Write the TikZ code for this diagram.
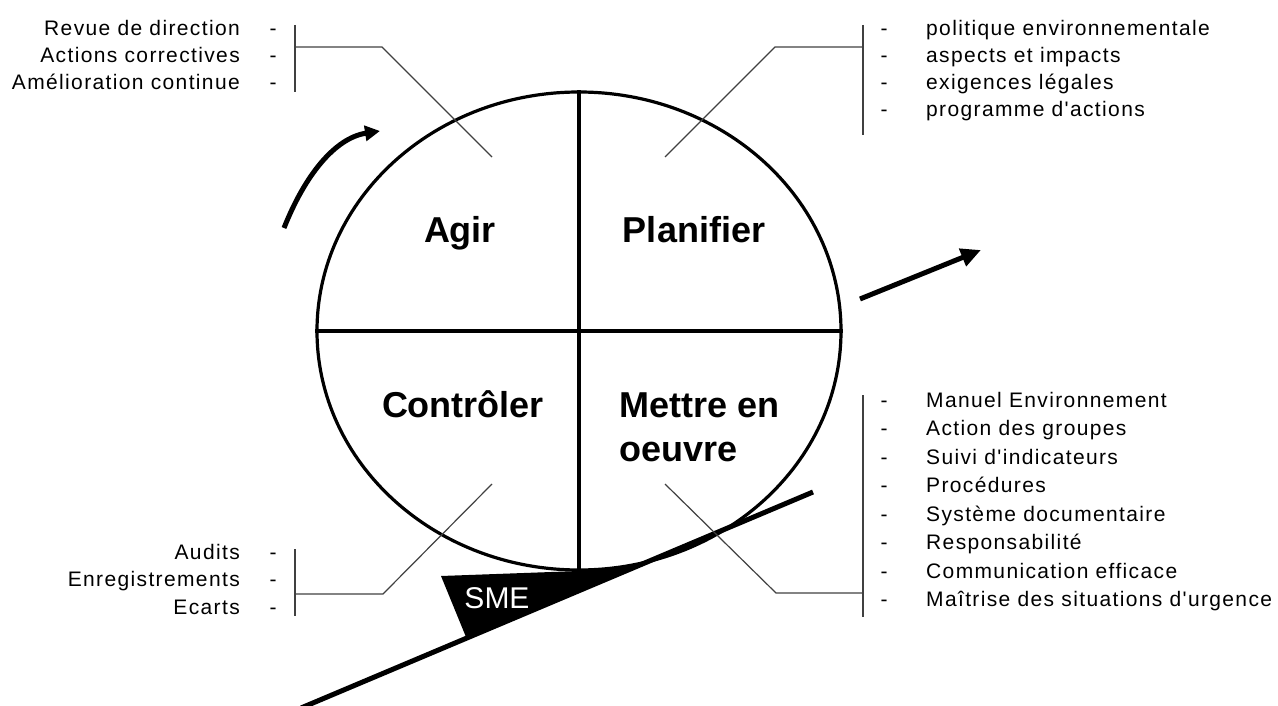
\documentclass[tikz,border=0pt]{standalone}
\usepackage{fontspec}
\setmainfont{Liberation Sans}
\newfontfamily\listfont[LetterSpace=6.5]{Liberation Sans}
\usetikzlibrary{arrows.meta,shapes.geometric}

\begin{document}
\begin{tikzpicture}[x=1pt,y=-1pt,
  phase/.style={inner sep=0pt, font=\fontsize{36}{44}\selectfont\bfseries},
  itemleft/.style={anchor=base east, inner sep=0pt, font=\listfont\fontsize{21}{27}\selectfont},
  itemright/.style={anchor=base west, inner sep=0pt, font=\listfont\fontsize{21}{27}\selectfont},
  dashmark/.style={anchor=base, inner sep=0pt, font=\listfont\fontsize{21}{27}\selectfont},
  brace/.style={line width=1.2pt, black!75},
  thickarrow/.style={line width=5pt, -{Triangle[length=20pt,width=18pt]}}]

\useasboundingbox (0,0) rectangle (1278,706);

% SME wedge under the wheel
\fill (441,576) -- (579,571) -- (640,566) -- (466,637) -- cycle;

% the wheel and its four quarters
\node[draw, ellipse, line width=3.2pt, minimum width=524pt, minimum height=478pt, inner sep=0pt] (wheel) at (579,331) {};
\draw[line width=3.2pt] (wheel.north) -- (wheel.south);
\draw[line width=3.2pt] (wheel.west) -- (wheel.east);

\node[phase, anchor=base] (agir) at (460,243) {Agir};
\node[phase, anchor=base] (planifier) at (694,243) {Planifier};
\node[phase, anchor=base] (controler) at (463,417) {Contrôler};
\node[phase, anchor=north west, align=left] (mettre) at (619,393) {Mettre en\\oeuvre};

% slope
\coordinate (ground) at (301,708);
\coordinate (slope) at (813,492);
\draw[line width=5pt] (ground) -- (slope);
\node[anchor=base, inner sep=0pt, text=white, font=\fontsize{30}{36}\selectfont] (sme) at (497,608) {SME};

% Agir: top left list
\foreach \txt [count=\i] in {Revue de direction,Actions correctives,Amélioration continue}{
  \node[itemleft] (agir\i) at (240,{36+27*(\i-1)}) {\txt};
  \node[dashmark] (agirdash\i) at (273,{36+27*(\i-1)}) {-};
}
\coordinate (agirtop) at (295,25);
\coordinate (agirbot) at (295,92);
\coordinate (agirknee) at (382,47);
\coordinate (agirend) at (492,157);
\draw[brace] (agirtop) -- (agirbot);
\draw[brace] (295,47) -- (agirknee) -- (agirend);

% Planifier: top right list
\foreach \txt [count=\i] in {politique environnementale,aspects et impacts,exigences légales,programme d'actions}{
  \node[itemright] (plan\i) at (926,{36+27*(\i-1)}) {\txt};
  \node[dashmark] (plandash\i) at (884,{36+27*(\i-1)}) {-};
}
\coordinate (plantop) at (863,25);
\coordinate (planbot) at (863,135);
\coordinate (planknee) at (775,47);
\coordinate (planend) at (665,157);
\draw[brace] (plantop) -- (planbot);
\draw[brace] (863,47) -- (planknee) -- (planend);

% Mettre en oeuvre: bottom right list
\foreach \txt [count=\i] in {Manuel Environnement,Action des groupes,Suivi d'indicateurs,Procédures,Système documentaire,Responsabilité,Communication efficace,Maîtrise des situations d'urgence}{
  \node[itemright] (do\i) at (926,{407+28.57*(\i-1)}) {\txt};
  \node[dashmark] (dodash\i) at (884,{407+28.57*(\i-1)}) {-};
}
\coordinate (dotop) at (863,395);
\coordinate (dobot) at (863,617);
\coordinate (doknee) at (776,593);
\coordinate (doend) at (665,484);
\draw[brace] (dotop) -- (dobot);
\draw[brace] (863,593) -- (doknee) -- (doend);

% Controler: bottom left list
\foreach \txt [count=\i] in {Audits,Enregistrements,Ecarts}{
  \node[itemleft] (check\i) at (240,{559+27.5*(\i-1)}) {\txt};
  \node[dashmark] (checkdash\i) at (273,{559+27.5*(\i-1)}) {-};
}
\coordinate (checktop) at (295,549);
\coordinate (checkbot) at (295,616);
\coordinate (checkknee) at (383,594);
\coordinate (checkend) at (492,484);
\draw[brace] (checktop) -- (checkbot);
\draw[brace] (295,594) -- (checkknee) -- (checkend);

% rotation and progress arrows
\coordinate (turnstart) at (284,228);
\coordinate (turnend) at (380,131);
\draw[line width=5pt, -{Triangle[length=15pt,width=15pt]}] (turnstart) .. controls (305,175) and (335,138) .. (turnend);
\coordinate (outstart) at (860,299);
\coordinate (outend) at (981,250);
\draw[thickarrow] (outstart) -- (outend);

\end{tikzpicture}
\end{document}
